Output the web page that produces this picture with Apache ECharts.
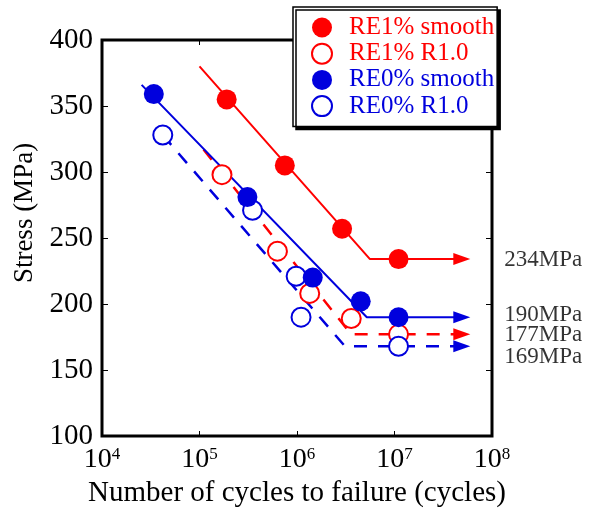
<!DOCTYPE html>
<html>
<head>
<meta charset="utf-8">
<script src="https://cdn.jsdelivr.net/npm/echarts@6/dist/echarts.min.js"></script>
<style>
  html, body { margin: 0; padding: 0; background: #fff; }
  #chart { width: 592px; height: 514px; }
</style>
</head>
<body>
<div id="chart"></div>
<script>
// test points (cycles / stress)
const re1SmoothN = [1.9e5, 7.5e5, 2.9e6, 1.1e7];
const re1SmoothS = [355, 305, 257, 234];
const re1NotchN = [1.7e5, 6.3e5, 1.35e6, 3.6e6, 1.1e7];
const re1NotchS = [298, 240, 208, 189, 177];
const re0SmoothN = [3.4e4, 3.1e5, 1.45e6, 4.5e6, 1.1e7];
const re0SmoothS = [359, 281, 220, 202, 190];
const re0NotchN = [4.2e4, 3.5e5, 9.8e5, 1.1e6, 1.1e7];
const re0NotchS = [328, 271, 221, 190, 168];

// fitted S-N lines
const re1SmoothFitN = [1e5, 5.6e6, 4.9e7];
const re1SmoothFitS = [380, 234, 234];
const re1NotchFitN = [1.1e5, 3.6e6, 4.9e7];
const re1NotchFitS = [317, 177, 177];
const re0SmoothFitN = [2.55e4, 5.2e6, 4.9e7];
const re0SmoothFitS = [366, 190, 190];
const re0NotchFitN = [4.2e4, 3.1e6, 4.9e7];
const re0NotchFitS = [328, 168, 168];

// fatigue limits (arrow ends)
const limitN = [4.9e7, 4.9e7, 4.9e7, 4.9e7];
const limitS = [234, 190, 177, 168];
const limitLabels = ['234MPa', '190MPa', '177MPa', '169MPa'];

const yTicks = [100, 150, 200, 250, 300, 350, 400];

const RED = '#ff0000';
const BLUE = '#0000dd';
const FONT = 'Liberation Serif';

const zip = (a, b) => a.map((v, i) => [v, b[i]]);

const chart = echarts.init(document.getElementById('chart'));

const fitLine = (name, n, s, color, dashed) => ({
  name: name,
  type: 'line',
  data: zip(n, s),
  symbol: 'none',
  silent: true,
  lineStyle: { color: color, width: dashed ? 2.5 : 2, type: dashed ? [13, 11] : 'solid' }
});

const points = (name, n, s, color, open) => ({
  name: name,
  type: 'scatter',
  data: zip(n, s),
  symbol: open ? 'emptyCircle' : 'circle',
  symbolSize: open ? 19 : 20,
  itemStyle: open
    ? { color: color, borderColor: color, borderWidth: 1.3, opacity: 1 }
    : { color: color, opacity: 1 },
  z: 3
});

const arrowColors = [RED, BLUE, RED, BLUE];
const labelDy = [1, -2, 1, 11];

const option = {
  animation: false,
  backgroundColor: '#fff',
  grid: {
    left: 102, top: 40, right: 100, bottom: 78,
    show: true, borderColor: '#000', borderWidth: 3, backgroundColor: 'transparent'
  },
  legend: {
    orient: 'vertical',
    left: 293, top: 7,
    padding: [8, 3, 8, 18],
    itemWidth: 44, itemHeight: 20, itemGap: 1.2,
    backgroundColor: '#fff',
    borderColor: '#000', borderWidth: 1.5,
    shadowColor: '#000', shadowBlur: 0, shadowOffsetX: 3, shadowOffsetY: 3,
    itemStyle: { opacity: 1 },
    textStyle: { fontFamily: FONT, fontSize: 25, lineHeight: 22 },
    data: [
      { name: 'RE1% smooth', icon: 'circle', textStyle: { color: RED } },
      { name: 'RE1% R1.0', icon: 'emptyCircle', textStyle: { color: RED } },
      { name: 'RE0% smooth', icon: 'circle', textStyle: { color: BLUE } },
      { name: 'RE0% R1.0', icon: 'emptyCircle', textStyle: { color: BLUE } }
    ]
  },
  xAxis: [{
    type: 'log', logBase: 10, min: 1e4, max: 1e8,
    position: 'bottom',
    axisLine: { show: false },
    axisTick: { inside: true, length: 5, lineStyle: { color: '#000', width: 1 } },
    splitLine: { show: false },
    minorTick: { show: false },
    axisLabel: {
      margin: 10, color: '#000', fontFamily: FONT, fontSize: 28,
      formatter: (v) => '10{s|' + Math.round(Math.log10(v)) + '}',
      rich: { s: { fontFamily: FONT, fontSize: 17, lineHeight: 10, verticalAlign: 'top', color: '#000' } }
    },
    name: 'Number of cycles to failure (cycles)',
    nameLocation: 'middle', nameGap: 42,
    nameTextStyle: { fontFamily: FONT, fontSize: 29, color: '#000' }
  }, {
    type: 'log', logBase: 10, min: 1e4, max: 1e8,
    position: 'top',
    axisLine: { show: false },
    axisTick: { inside: true, length: 5, lineStyle: { color: '#000', width: 1 } },
    splitLine: { show: false },
    axisLabel: { show: false }
  }],
  yAxis: [{
    type: 'value', min: yTicks[0], max: yTicks[yTicks.length - 1], interval: 50,
    position: 'left',
    axisLine: { show: false },
    axisTick: { inside: true, length: 6, lineStyle: { color: '#000', width: 1 } },
    splitLine: { show: false },
    axisLabel: { margin: 9, color: '#000', fontFamily: FONT, fontSize: 29 },
    name: 'Stress (MPa)',
    nameLocation: 'middle', nameGap: 63,
    nameTextStyle: { fontFamily: FONT, fontSize: 27, color: '#000', padding: [0, 0, 0, 50] }
  }, {
    type: 'value', min: yTicks[0], max: yTicks[yTicks.length - 1], interval: 50,
    position: 'right',
    axisLine: { show: false },
    axisTick: { inside: true, length: 6, lineStyle: { color: '#000', width: 1 } },
    splitLine: { show: false },
    axisLabel: { show: false }
  }],
  series: [
    fitLine('fit1n', re1NotchFitN, re1NotchFitS, RED, true),
    fitLine('fit0n', re0NotchFitN, re0NotchFitS, BLUE, true),
    fitLine('fit1s', re1SmoothFitN, re1SmoothFitS, RED, false),
    points('RE1% R1.0', re1NotchN, re1NotchS, RED, true),
    points('RE0% R1.0', re0NotchN, re0NotchS, BLUE, true),
    fitLine('fit0s', re0SmoothFitN, re0SmoothFitS, BLUE, false),
    {
      name: 'arrows',
      type: 'scatter',
      symbol: 'triangle',
      symbolSize: [12, 17],
      symbolRotate: -90,
      silent: true,
      data: limitN.map((n, i) => ({ value: [n, limitS[i]], itemStyle: { color: arrowColors[i], opacity: 1 } }))
    },
    points('RE1% smooth', re1SmoothN, re1SmoothS, RED, false),
    points('RE0% smooth', re0SmoothN, re0SmoothS, BLUE, false),
    {
      name: 'limitLabels',
      type: 'scatter',
      symbolSize: 1,
      silent: true,
      itemStyle: { color: 'rgba(0,0,0,0)' },
      data: limitN.map((n, i) => ({
        value: [n, limitS[i]],
        label: { offset: [0, labelDy[i]] }
      })),
      label: {
        show: true, position: 'right', distance: 42,
        fontFamily: FONT, fontSize: 23, color: '#000',
        formatter: (p) => limitLabels[p.dataIndex]
      }
    }
  ]
};

chart.setOption(option);
</script>
</body>
</html>
